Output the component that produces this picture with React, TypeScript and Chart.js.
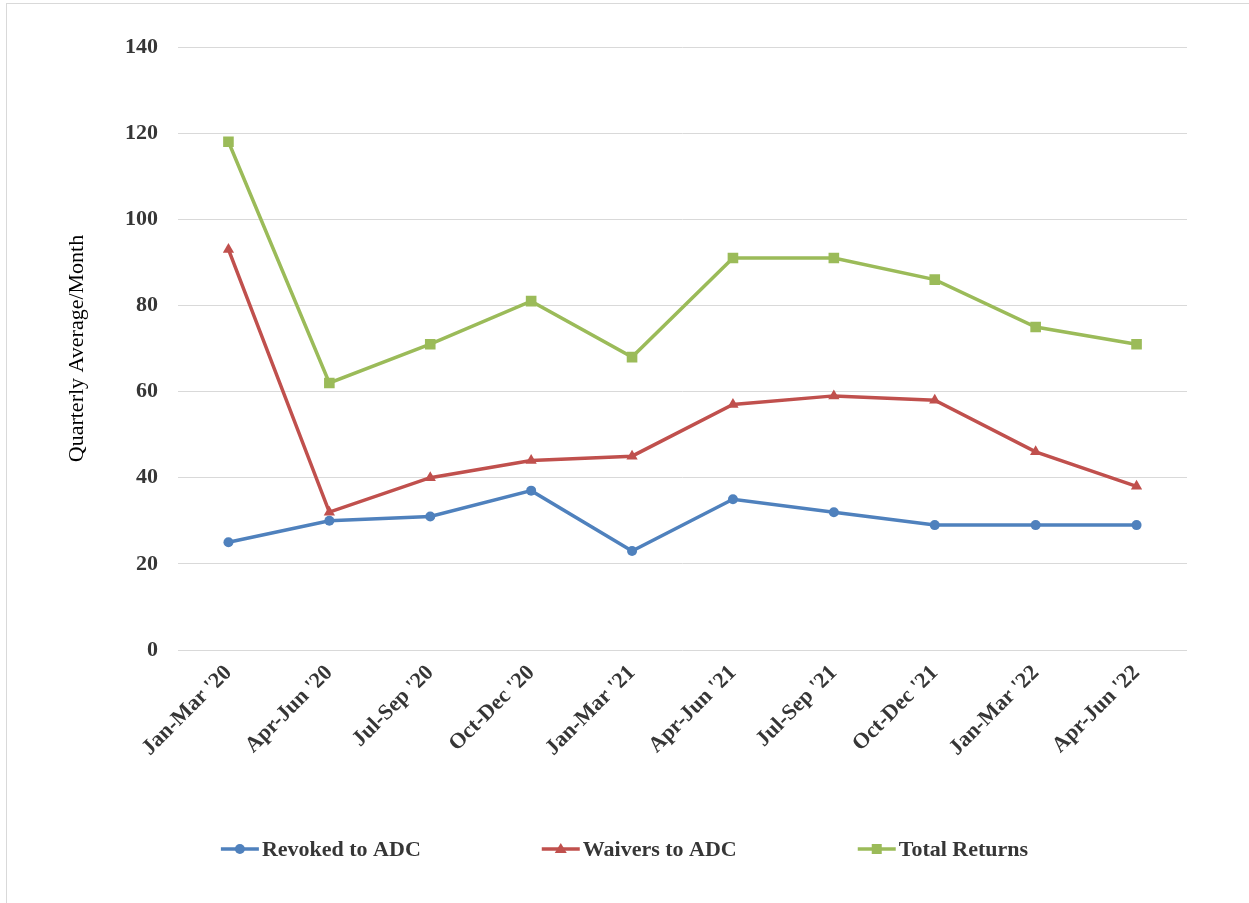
import React, { useEffect, useRef } from "react";
import { Chart, registerables } from "chart.js";

Chart.register(...registerables);

const categories = ["Jan-Mar '20", "Apr-Jun '20", "Jul-Sep '20", "Oct-Dec '20", "Jan-Mar '21", "Apr-Jun '21", "Jul-Sep '21", "Oct-Dec '21", "Jan-Mar '22", "Apr-Jun '22"];
const revokedToADC = [25, 30, 31, 37, 23, 35, 32, 29, 29, 29];
const waiversToADC = [93, 32, 40, 44, 45, 57, 59, 58, 46, 38];
const totalReturns = [118, 62, 71, 81, 68, 91, 91, 86, 75, 71];
const yTicks = [0, 20, 40, 60, 80, 100, 120, 140];

const FONT = "'Times New Roman', 'Liberation Serif', serif";
const TEXT = "#363636";

const legendPlugin = {
  id: "customLegend",
  afterDraw(chart: any) {
    const ctx = chart.ctx;
    const ds = chart.data.datasets;
    ctx.save();
    ctx.font = `bold 22px ${FONT}`;
    const lineW = 38;
    const gap = 121;
    const widths = ds.map((d: any) => lineW + 3 + ctx.measureText(d.label).width);
    const total = widths.reduce((a: number, b: number) => a + b, 0) + gap * (ds.length - 1);
    let x = chart.width / 2 - total / 2;
    const y = 849;
    ds.forEach((d: any, i: number) => {
      ctx.strokeStyle = d.borderColor;
      ctx.lineWidth = 3.5;
      ctx.beginPath();
      ctx.moveTo(x, y);
      ctx.lineTo(x + lineW, y);
      ctx.stroke();
      ctx.fillStyle = d.borderColor;
      ctx.beginPath();
      const cx = x + lineW / 2;
      if (d.pointStyle === "circle") {
        ctx.arc(cx, y, 5, 0, Math.PI * 2);
      } else if (d.pointStyle === "triangle") {
        ctx.moveTo(cx, y - 6);
        ctx.lineTo(cx + 6, y + 4);
        ctx.lineTo(cx - 6, y + 4);
        ctx.closePath();
      } else {
        ctx.rect(cx - 5, y - 5, 10, 10);
      }
      ctx.fill();
      ctx.fillStyle = TEXT;
      ctx.textBaseline = "middle";
      ctx.textAlign = "left";
      ctx.fillText(d.label, x + lineW + 3, y + 1);
      x += widths[i] + gap;
    });
    ctx.restore();
  },
};

export default function App() {
  const ref = useRef<HTMLCanvasElement>(null);
  useEffect(() => {
    if (!ref.current) return;
    const mk = (label: string, data: number[], color: string, style: string, r: number) => ({
      label,
      data,
      borderColor: color,
      backgroundColor: color,
      borderWidth: 3.5,
      pointStyle: style,
      pointRadius: r,
      pointHoverRadius: r,
      pointBorderWidth: 0,
      tension: 0,
    });
    const chart = new Chart(ref.current, {
      type: "line",
      data: {
        labels: categories,
        datasets: [
          mk("Revoked to ADC", revokedToADC, "#4F81BD", "circle", 5),
          mk("Waivers to ADC", waiversToADC, "#C0504D", "triangle", 6.5),
          mk("Total Returns", totalReturns, "#9BBB59", "rect", 7.5),
        ],
      },
      options: {
        animation: false,
        responsive: false,
        layout: { padding: { top: 47, right: 62, left: 0, bottom: 0 } },
        plugins: { legend: { display: false }, tooltip: { enabled: false } },
        scales: {
          x: {
            offset: true,
            grid: { display: false, drawTicks: false },
            border: { display: false },
            ticks: {
              minRotation: 45,
              maxRotation: 45,
              padding: 10,
              color: TEXT,
              font: { family: FONT, size: 22, weight: "bold" },
            },
            afterFit(scale: any) {
              scale.height = 253;
            },
          },
          y: {
            min: 0,
            max: 140,
            afterBuildTicks(scale: any) {
              scale.ticks = yTicks.map((v) => ({ value: v }));
            },
            grid: { color: "#d9d9d9", lineWidth: 1, drawTicks: false },
            border: { display: false },
            ticks: {
              padding: 20,
              color: TEXT,
              font: { family: FONT, size: 22, weight: "bold" },
            },
            title: {
              display: true,
              text: "Quarterly Average/Month",
              color: "#000",
              font: { family: FONT, size: 22 },
              padding: { top: 64, bottom: 0 },
            },
            afterFit(scale: any) {
              scale.width = 178;
            },
          },
        },
      },
      plugins: [legendPlugin],
    } as any);
    return () => chart.destroy();
  }, []);
  return (
    <div style={{ position: "fixed", left: 0, top: 0, width: 1249, height: 903, overflow: "hidden", background: "#fff" }}>
      <div style={{ position: "absolute", left: 6, top: 3, width: 1400, height: 1100, border: "1px solid #d9d9d9" }} />
      <canvas ref={ref} width={1249} height={903} style={{ position: "absolute", left: 0, top: 0 }} />
    </div>
  );
}
